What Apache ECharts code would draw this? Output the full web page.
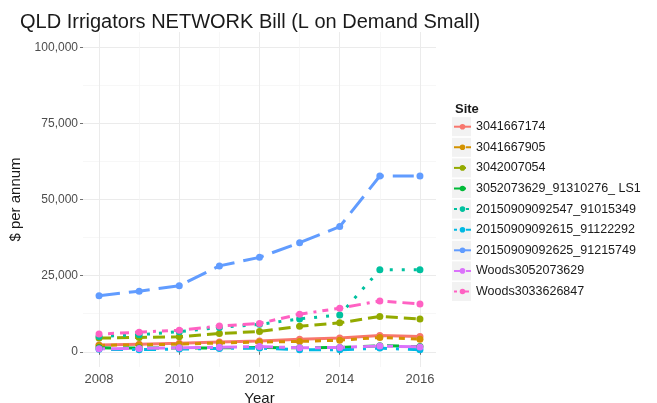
<!DOCTYPE html>
<html>
<head>
<meta charset="utf-8">
<script src="https://cdn.jsdelivr.net/npm/echarts@6/dist/echarts.min.js"></script>
<style>html,body{margin:0;padding:0;background:#fff}#c{width:657px;height:403px}</style>
</head>
<body>
<div id="c"></div>
<script>
const years = [2008, 2009, 2010, 2011, 2012, 2013, 2014, 2015, 2016];
const xMajor = [2008, 2010, 2012, 2014, 2016];
const xMinor = [2009, 2011, 2013, 2015];
const yMajor = [0, 25000, 50000, 75000, 100000];
const yMinor = [12500, 37500, 62500, 87500];
const siteNames = ["3041667174", "3041667905", "3042007054", "3052073629_91310276_ LS1", "20150909092547_91015349", "20150909092615_91122292", "20150909092625_91215749", "Woods3052073629", "Woods3033626847"];
const s3041667174 = [2200, 2500, 2800, 3200, 3500, 4150, 4500, 5350, 5000];
const s3041667905 = [2100, 2300, 2500, 2900, 3200, 3400, 3800, 4700, 4150];
const s3042007054 = [4500, 4700, 4900, 6000, 6650, 8400, 9500, 11600, 10800];
const s3052073629 = [1300, 1200, 1200, 1300, 1400, 1300, 1400, 2000, 1700];
const s2015_91015349 = [5000, 5600, 6600, 8000, 9000, 10800, 12100, 26900, 26900];
const s2015_91122292 = [800, 700, 900, 1100, 1200, 650, 650, 1200, 650];
const s2015_91215749 = [18400, 19900, 21700, 28200, 31000, 35800, 41100, 57700, 57700];
const sWoods3052073629 = [1000, 1100, 1300, 1500, 1700, 1300, 1400, 1900, 1600];
const sWoods3033626847 = [5800, 6450, 7100, 8430, 9300, 12350, 14300, 16700, 15700];
const seriesValues = [s3041667174, s3041667905, s3042007054, s3052073629, s2015_91015349, s2015_91122292, s2015_91215749, sWoods3052073629, sWoods3033626847];

const colors = ["#F8766D", "#D39200", "#93AA00", "#00BA38", "#00C19F", "#00B9E3", "#619CFF", "#DB72FB", "#FF61C3"];
const lw = 3;
const dashes = ["solid", [2,2], [4,2], [4,4], [1,3], [1,3,4,3], [7,3], [2,2,6,2], [1,2,2,2,3,2,4,2]];
function dashOf(d){ return d === "solid" ? "solid" : d.map(v => v * lw); }

const series = siteNames.map((name, i) => ({
  name: name,
  type: 'line',
  xAxisIndex: 0, yAxisIndex: 0,
  data: years.map((y, j) => [y, seriesValues[i][j]]),
  symbol: 'circle',
  symbolSize: 7,
  itemStyle: {color: colors[i]},
  lineStyle: {color: colors[i], width: lw, type: dashOf(dashes[i]), cap: 'butt'},
  emphasis: {disabled: true},
  animation: false,
  z: 3
}));

const legCenter0 = 126.7, legStep = 20.6, legH = 7, legRowH = 13;
const keyRects = siteNames.map((n, i) => ({
  type: 'rect', z: 0,
  shape: {x: 452, y: legCenter0 - 9.5 + i * legStep, width: 19, height: 19},
  style: {fill: '#F2F2F2'}
}));

const chart = echarts.init(document.getElementById('c'), null, {renderer: 'canvas'});
chart.setOption({
  backgroundColor: '#ffffff',
  animation: false,
  color: colors,
  textStyle: {fontFamily: 'Liberation Sans, Arial, sans-serif'},
  title: [
    {text: 'QLD Irrigators NETWORK Bill (L on Demand Small)', left: 15, top: 7,
     textStyle: {fontSize: 20, fontWeight: 'normal', color: '#1a1a1a', fontFamily: 'Liberation Sans'}},
    {text: 'Site', left: 450, top: 98,
     textStyle: {fontSize: 13, fontWeight: 'bold', color: '#1a1a1a', fontFamily: 'Liberation Sans'}}
  ],
  graphic: keyRects,
  legend: {
    orient: 'vertical', left: 453, top: legCenter0 - legRowH / 2, padding: 0,
    itemWidth: 17, itemHeight: legH, itemGap: legStep - legRowH,
    textStyle: {fontSize: 12.5, color: '#1a1a1a', fontFamily: 'Liberation Sans'},
    data: siteNames
  },
  grid: {left: 83, right: 221, top: 32, bottom: 36, containLabel: false, outerBoundsMode: 'none'},
  xAxis: [
    {type: 'value', min: 2007.6, max: 2016.4,
     name: 'Year', nameLocation: 'middle', nameGap: 19,
     nameTextStyle: {fontSize: 15, color: '#1a1a1a', fontFamily: 'Liberation Sans'},
     axisLine: {show: false},
     axisTick: {show: true, length: 3, lineStyle: {color: '#4d4d4d', width: 0.8}, customValues: xMajor},
     axisLabel: {customValues: xMajor, fontSize: 13, color: '#4d4d4d', margin: 6, formatter: v => String(v)},
     splitLine: {show: true, lineStyle: {color: '#EBEBEB', width: 1}}},
    {type: 'value', min: 2007.6, max: 2016.4, position: 'bottom',
     axisLine: {show: false},
     axisTick: {show: false, customValues: xMinor},
     axisLabel: {show: false, customValues: xMinor},
     splitLine: {show: true, lineStyle: {color: '#F3F3F3', width: 0.7}}}
  ],
  yAxis: [
    {type: 'value', min: -5000, max: 105000,
     name: '$ per annum', nameLocation: 'middle', nameGap: 58, nameRotate: 90,
     nameTextStyle: {fontSize: 15, color: '#1a1a1a', fontFamily: 'Liberation Sans'},
     axisLine: {show: false},
     axisTick: {show: true, length: 3, lineStyle: {color: '#4d4d4d', width: 0.8}, customValues: yMajor},
     axisLabel: {customValues: yMajor, fontSize: 12, color: '#4d4d4d', margin: 5,
       formatter: v => v.toLocaleString('en-US')},
     splitLine: {show: true, lineStyle: {color: '#EBEBEB', width: 1}}},
    {type: 'value', min: -5000, max: 105000, position: 'left',
     axisLine: {show: false},
     axisTick: {show: false, customValues: yMinor},
     axisLabel: {show: false, customValues: yMinor},
     splitLine: {show: true, lineStyle: {color: '#F3F3F3', width: 0.7}}}
  ],
  series: series
});
</script>
</body>
</html>
